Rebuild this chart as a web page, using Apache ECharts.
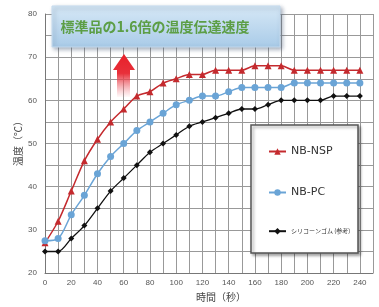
<!DOCTYPE html>
<html>
<head>
<meta charset="utf-8">
<script src="https://cdn.jsdelivr.net/npm/echarts@6/dist/echarts.min.js"></script>
<style>
  html, body { margin: 0; padding: 0; background: #fff; }
  #main { width: 379px; height: 307px; }
</style>
</head>
<body>
<div id="main"></div>
<script>
// 時間（秒）
const times = [0, 10, 20, 30, 40, 50, 60, 70, 80, 90, 100, 110, 120, 130, 140, 150, 160, 170, 180, 190, 200, 210, 220, 230, 240];
const seriesNames = ['NB-NSP', 'NB-PC', 'シリコーンゴム (参考)'];
const nspValues = [27, 32, 39, 46, 51, 55, 58, 61, 62, 64, 65, 66, 66, 67, 67, 67, 68, 68, 68, 67, 67, 67, 67, 67, 67];
const pcValues = [27.5, 28, 33.5, 38, 43, 47, 50, 53, 55, 57, 59, 60, 61, 61, 62, 63, 63, 63, 63, 64, 64, 64, 64, 64, 64];
const siliconeValues = [25, 25, 28, 31, 35, 39, 42, 45, 48, 50, 52, 54, 55, 56, 57, 58, 58, 59, 60, 60, 60, 60, 61, 61, 61];
const xTickLabels = [0, 20, 40, 60, 80, 100, 120, 140, 160, 180, 200, 220, 240];
const yTickLabels = [20, 30, 40, 50, 60, 70, 80];

const myChart = echarts.init(document.getElementById('main'));

function pairs(vals) {
  return times.map((t, i) => [t, vals[i]]);
}

const gridColor = '#999';

const option = {
  animation: false,
  grid: { left: 45, right: 6, top: 14, bottom: 24 },
  xAxis: {
    type: 'value',
    min: 0,
    max: 250,
    interval: 10,
    name: '時間（秒）',
    nameLocation: 'middle',
    nameGap: 16,
    nameTextStyle: { color: '#444', fontSize: 10, padding: [0, 0, 0, 24], fontFamily: 'Noto Sans CJK JP' },
    axisLine: { lineStyle: { color: '#777' } },
    axisTick: { show: false },
    axisLabel: {
      color: '#555', fontSize: 8, margin: 6,
      formatter: v => xTickLabels.indexOf(v) >= 0 ? String(v) : ''
    },
    splitLine: { show: true, lineStyle: { color: gridColor, width: 1 } }
  },
  yAxis: {
    type: 'value',
    min: 20,
    max: 80,
    interval: 5,
    axisLine: { show: true, lineStyle: { color: '#777' } },
    axisTick: { show: false },
    axisLabel: {
      color: '#555', fontSize: 8, margin: 8,
      formatter: v => yTickLabels.indexOf(v) >= 0 ? String(v) : ''
    },
    splitLine: { show: true, lineStyle: { color: gridColor, width: 1 } }
  },
  legend: {
    orient: 'vertical',
    left: 263,
    top: 141,
    itemGap: 30,
    itemWidth: 17,
    itemHeight: 8,
    data: seriesNames,
    textStyle: {
      color: '#333', fontSize: 11, fontFamily: 'DejaVu Sans',
      rich: { s: { fontSize: 6, color: '#333', fontFamily: 'Noto Sans CJK JP' } }
    },
    formatter: name => name === seriesNames[2] ? '{s|' + name + '}' : name
  },
  graphic: [
    {
      type: 'text', z: 5,
      left: 13, top: 116,
      rotation: Math.PI / 2,
      style: { text: '温度（℃）', fill: '#444', font: '10px "Noto Sans CJK JP"' }
    },
    {
      type: 'rect', z: 1,
      shape: { x: 251, y: 125, width: 107, height: 128 },
      style: {
        fill: '#fff', stroke: '#555', lineWidth: 1.5,
        shadowBlur: 3, shadowOffsetX: 2, shadowOffsetY: 2, shadowColor: 'rgba(0,0,0,0.35)'
      }
    },
    {
      type: 'rect', z: 5,
      shape: { x: 52, y: 6, width: 228, height: 41 },
      style: {
        fill: new echarts.graphic.LinearGradient(0, 0, 0, 1, [
          { offset: 0, color: '#d6e8f6' },
          { offset: 1, color: '#a9cbe8' }
        ]),
        stroke: '#c5dbee', lineWidth: 1,
        shadowBlur: 4, shadowOffsetX: 2, shadowOffsetY: 2, shadowColor: 'rgba(60,80,110,0.45)'
      }
    },
    {
      type: 'text', z: 6,
      x: 155, y: 27,
      style: {
        text: '標準品の1.6倍の温度伝達速度',
        fill: '#5c9e46',
        font: 'bold 14px "Noto Sans CJK JP"',
        align: 'center', verticalAlign: 'middle'
      }
    },
    {
      type: 'polygon', z: 5,
      shape: { points: [[124, 54], [135, 70], [130, 70], [130, 97], [117, 97], [117, 70], [113, 70]] },
      style: {
        fill: new echarts.graphic.LinearGradient(0, 0, 0, 1, [
          { offset: 0, color: '#e8202a' },
          { offset: 0.45, color: '#e8303a' },
          { offset: 1, color: 'rgba(240,120,130,0.05)' }
        ])
      }
    }
  ],
  series: [
    {
      name: seriesNames[0], type: 'line', smooth: 0.3,
      data: pairs(nspValues),
      symbol: 'triangle', symbolSize: 7,
      lineStyle: { color: '#c42a2e', width: 1.5 },
      itemStyle: { color: '#c42a2e' }
    },
    {
      name: seriesNames[1], type: 'line', smooth: 0.3,
      data: pairs(pcValues),
      symbol: 'circle', symbolSize: 7,
      lineStyle: { color: '#6aa4d6', width: 1.5 },
      itemStyle: { color: '#6aa4d6' }
    },
    {
      name: seriesNames[2], type: 'line', smooth: 0.3,
      data: pairs(siliconeValues),
      symbol: 'diamond', symbolSize: 6,
      lineStyle: { color: '#111', width: 1.3 },
      itemStyle: { color: '#111' }
    }
  ]
};

myChart.setOption(option);
</script>
</body>
</html>
